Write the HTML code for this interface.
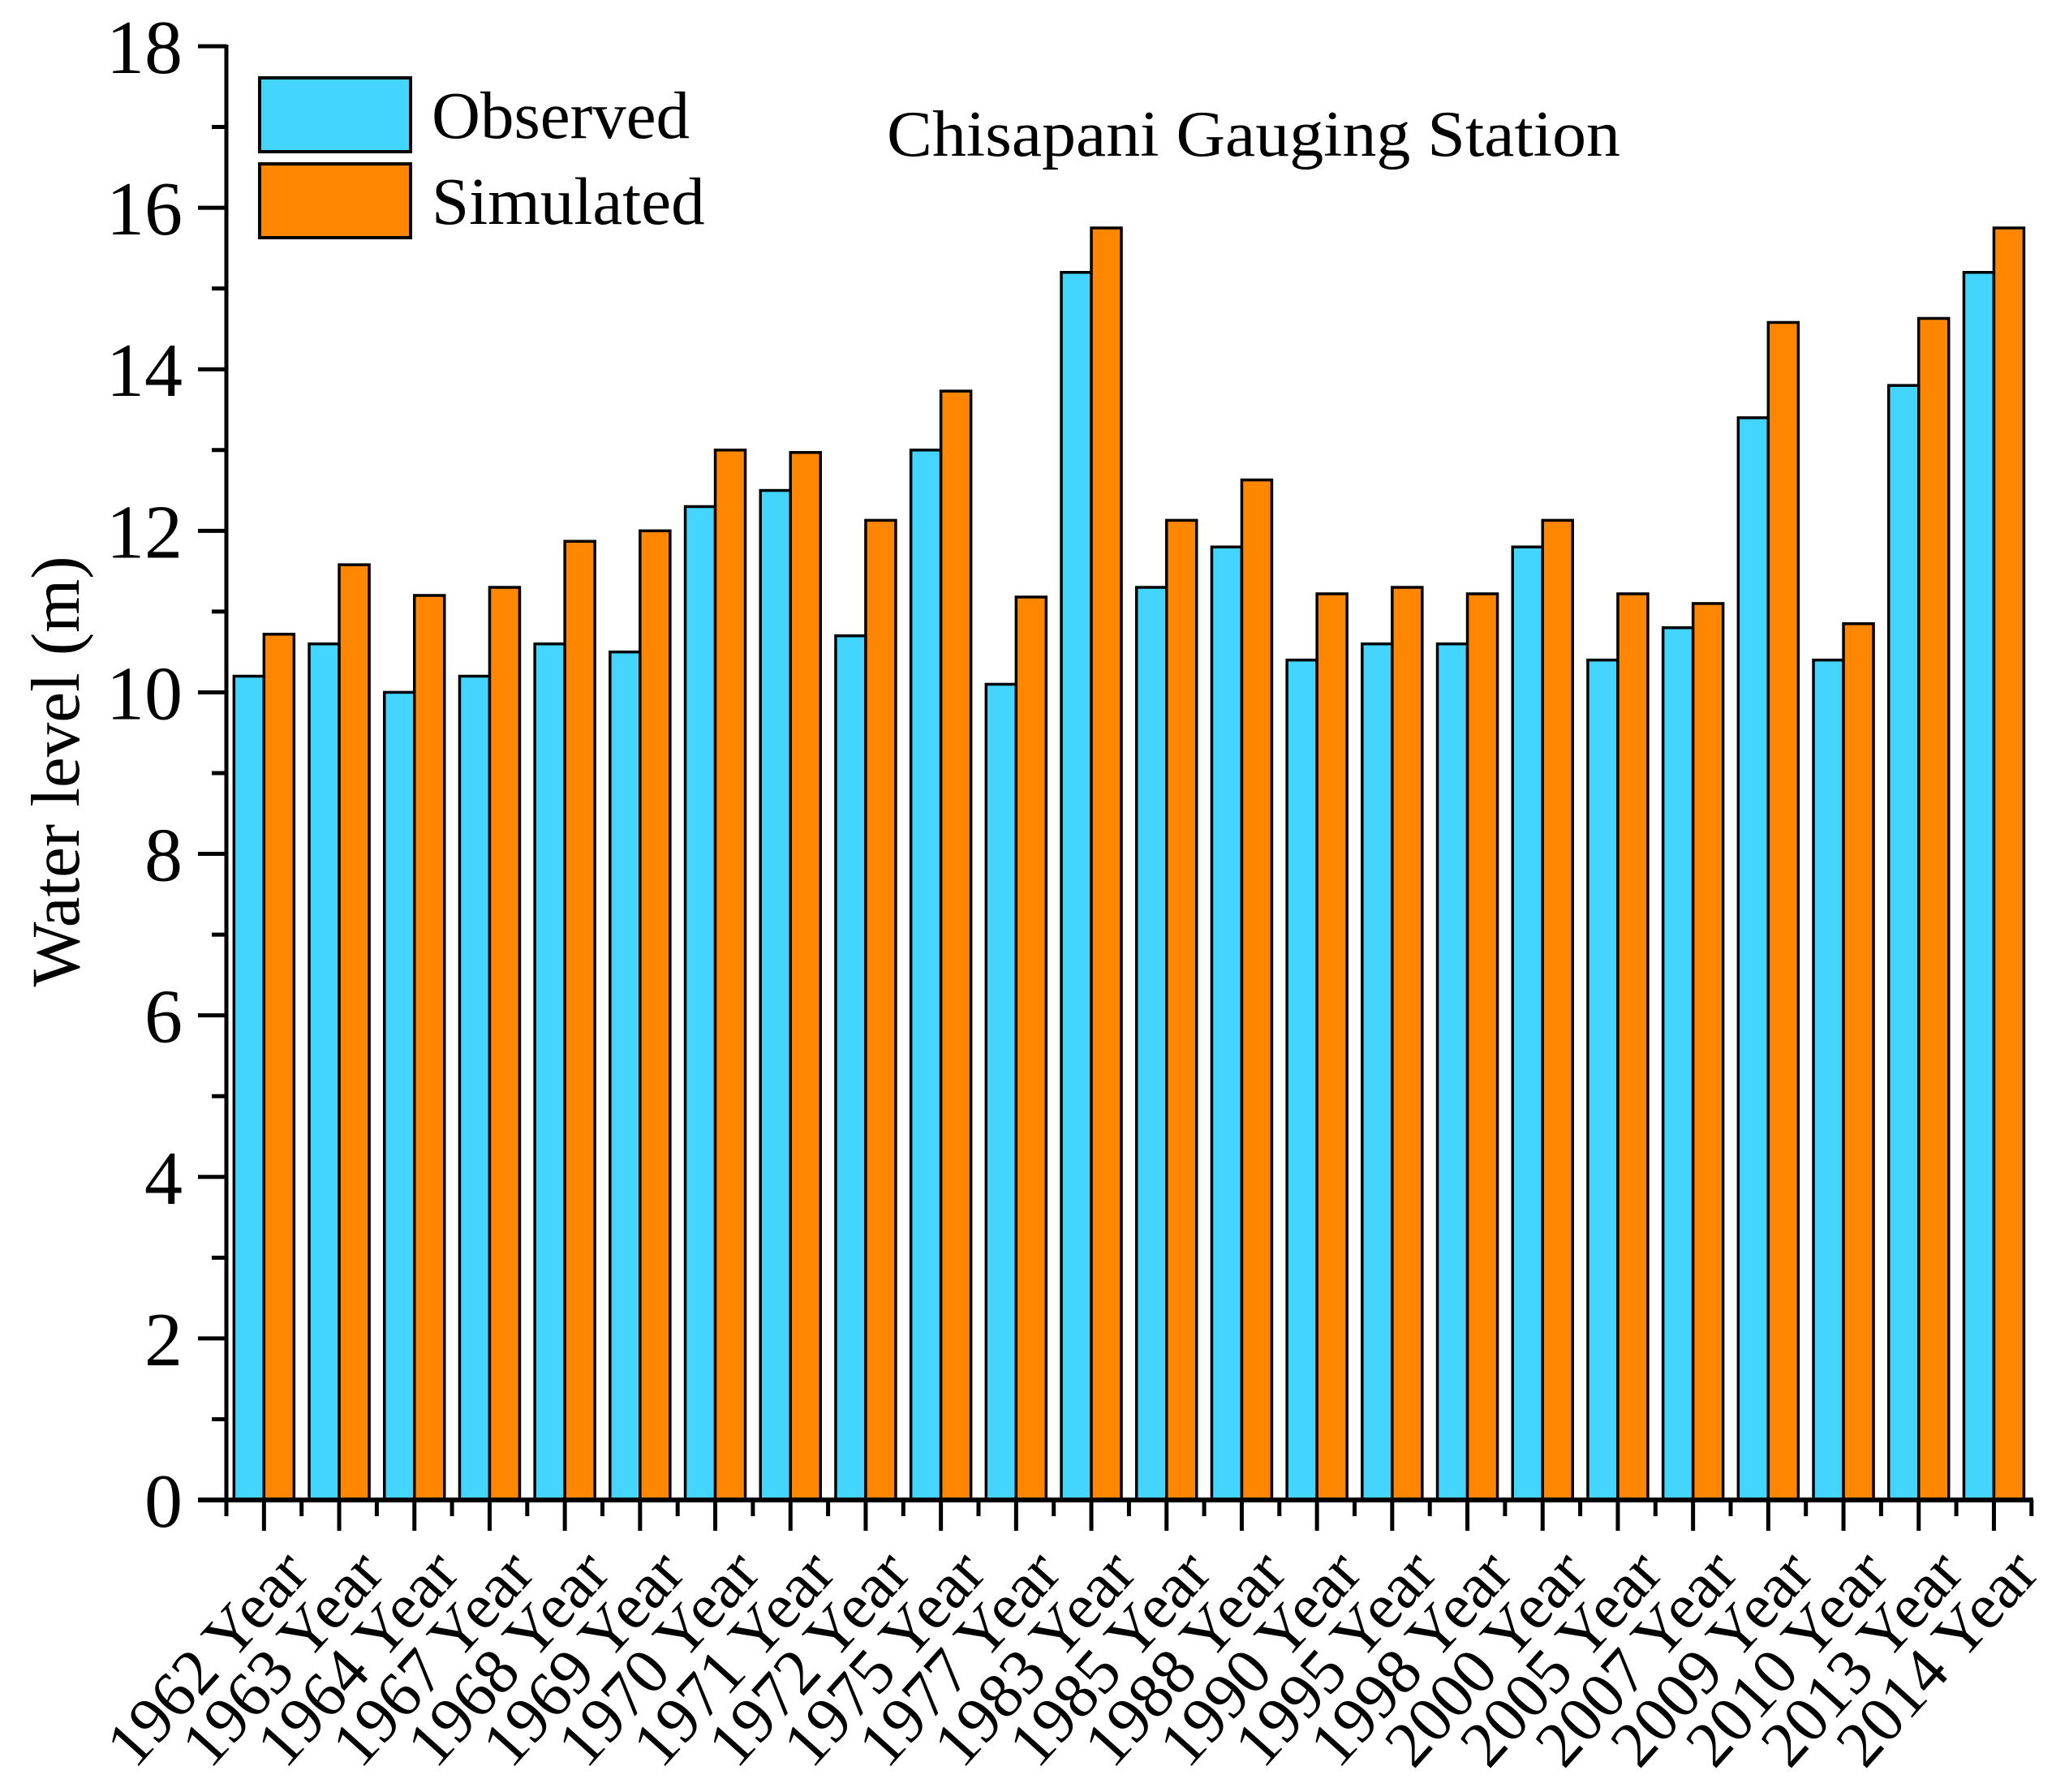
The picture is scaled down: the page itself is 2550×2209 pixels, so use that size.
<!DOCTYPE html>
<html><head><meta charset="utf-8"><style>
html,body{margin:0;padding:0;background:#fff;}
svg{display:block;font-family:"Liberation Serif",serif;}
</style></head><body>
<svg id="chart" width="2550" height="2209" viewBox="0 0 2550 2209" xmlns="http://www.w3.org/2000/svg">
<g id="bars"></g>
<g id="axes"></g>
<text x="1093" y="192" font-size="80" textLength="904" lengthAdjust="spacingAndGlyphs">Chisapani Gauging Station</text>
<text transform="translate(97,951) rotate(-90)" text-anchor="middle" font-size="85">Water level (m)</text>
<g>
<rect x="320" y="96" width="186" height="91" fill="#44d5ff" stroke="#000" stroke-width="4"/>
<text x="532" y="170" font-size="83">Observed</text>
<rect x="320" y="202" width="186" height="91" fill="#ff8600" stroke="#000" stroke-width="4"/>
<text x="532" y="276" font-size="83">Simulated</text>
</g>
</svg>
<script>
const categories = ["1962","1963","1964","1967","1968","1969","1970","1971","1972","1975","1977","1983","1985","1988","1990","1995","1998","2000","2005","2007","2009","2010","2013","2014"];
const observed = [10.2,10.6,10.0,10.2,10.6,10.5,12.3,12.5,10.7,13.0,10.1,15.2,11.3,11.8,10.4,10.6,10.6,11.8,10.4,10.8,13.4,10.4,13.8,15.2];
const simulated = [10.72,11.58,11.2,11.3,11.87,12.0,13.0,12.97,12.13,13.73,11.18,15.75,12.13,12.63,11.22,11.3,11.22,12.13,11.22,11.1,14.58,10.85,14.63,15.75];
const yTicks = [0,2,4,6,8,10,12,14,16,18];

const NS = "http://www.w3.org/2000/svg";
const X0 = 279, GW = 92.7, Y0 = 1849, YU = (1849 - 57) / 18;
const xGroup = i => X0 + i * GW;
const yScale = v => Y0 - v * YU;
function mk(tag, attrs, parent) {
  const e = document.createElementNS(NS, tag);
  for (const k in attrs) e.setAttribute(k, attrs[k]);
  parent.appendChild(e);
  return e;
}
const bars = document.getElementById('bars');
const axes = document.getElementById('axes');
const BW = 37;
categories.forEach((c, i) => {
  const cx = xGroup(i) + GW / 2;
  const b1 = mk('rect', {x: cx - BW, y: yScale(observed[i]), width: BW, height: Y0 - yScale(observed[i]), fill: '#44d5ff', stroke: '#000', 'stroke-width': 3.5}, bars);
  
  
  const b2 = mk('rect', {x: cx, y: yScale(simulated[i]), width: BW, height: Y0 - yScale(simulated[i]), fill: '#ff8600', stroke: '#000', 'stroke-width': 3.5}, bars);
  
  
  const t = mk('line', {x1: cx, y1: Y0, x2: cx, y2: Y0 + 38, stroke: '#000', 'stroke-width': 5}, axes);
  
  
  const lbl = mk('text', {transform: `translate(${cx + 58},${Y0 + 92}) rotate(-48)`, 'text-anchor': 'end', 'font-size': 80}, axes);
  lbl.textContent = c + ' Year';
  
  
});
for (let i = 0; i <= categories.length; i++) {
  const m = mk('line', {x1: xGroup(i), y1: Y0, x2: xGroup(i), y2: Y0 + 20, stroke: '#000', 'stroke-width': 5}, axes);
  
  
}
yTicks.forEach(v => {
  const y = yScale(v);
  const t = mk('line', {x1: X0 - 35, y1: y, x2: X0, y2: y, stroke: '#000', 'stroke-width': 5}, axes);
  
  
  const l = mk('text', {x: 225, y: y + 33, 'text-anchor': 'end', 'font-size': 94}, axes);
  l.textContent = v;
  
  
  if (v < 18) {
    const m = mk('line', {x1: X0 - 18, y1: yScale(v + 1), x2: X0, y2: yScale(v + 1), stroke: '#000', 'stroke-width': 5}, axes);
    
    
  }
});
const ya = mk('line', {x1: X0, y1: yScale(18) - 2, x2: X0, y2: Y0, stroke: '#000', 'stroke-width': 5}, axes);


const xa = mk('line', {x1: X0 - 35, y1: Y0, x2: xGroup(categories.length) + 2, y2: Y0, stroke: '#000', 'stroke-width': 6}, axes);


</script>
</body></html>
